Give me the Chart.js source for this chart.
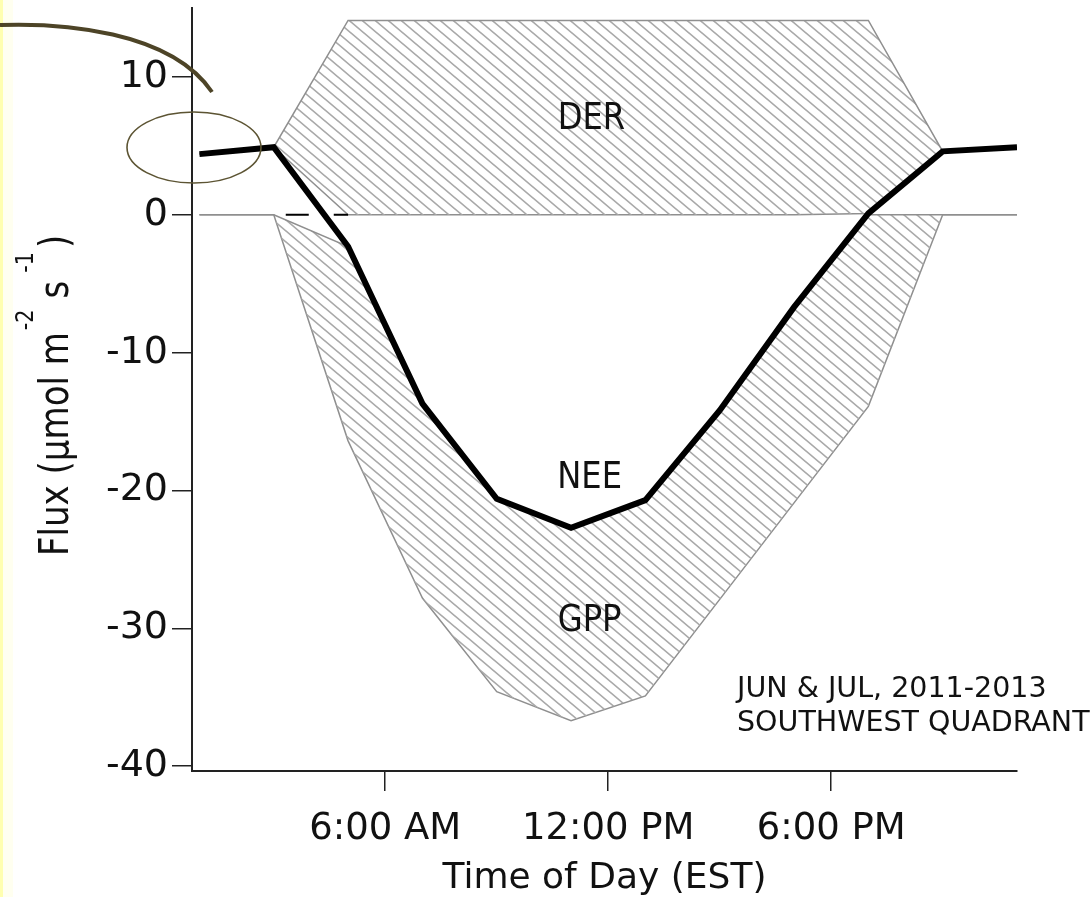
<!DOCTYPE html>
<html>
<head>
<meta charset="utf-8">
<script src="https://cdn.jsdelivr.net/npm/chart.js@4/dist/chart.umd.min.js"></script>
<style>
  html, body { margin: 0; padding: 0; }
  body {
    width: 1091px; height: 897px; overflow: hidden;
    background: linear-gradient(to right, #ffffb0 0, #ffffb0 3px, #fffff0 3px, #fffff0 13px, #ffffff 13px);
  }
  #wrap { position: absolute; left: 0; top: 0; width: 1091px; height: 897px; }
</style>
</head>
<body>
<div id="wrap"><canvas id="fluxChart" width="1091" height="897"></canvas></div>
<script>
// hour of day (EST), 2-hourly bins
const hours = [1, 3, 5, 7, 9, 11, 13, 15, 17, 19, 21, 23];
// net ecosystem exchange
const nee = [4.4, 4.9, -2.3, -13.7, -20.6, -22.7, -20.7, -14.2, -6.7, 0.1, 4.6, 4.9];
// daytime ecosystem respiration band (top / bottom)
const derTop = [4.4, 4.9, 14.1, 14.1, 14.1, 14.1, 14.1, 14.1, 14.1, 14.1, 4.6, 4.9];
const derBottom = [4.4, 4.9, 0, 0, 0, 0, 0, 0, 0, 0.1, 4.6, 4.9];
// gross primary production band (top / bottom)
const gppTop = [0, 0, -2.3, -13.7, -20.6, -22.7, -20.7, -14.2, -6.7, 0, 0, 0];
const gppBottom = [0, 0, -16.4, -27.8, -34.6, -36.7, -34.9, -27.9, -20.9, -13.9, 0, 0];
// short dashed zero reference (only visible between the two bands)
const zeroHours = [3, 5];
const zeroLine = [0, 0];

const xTicks = [6, 12, 18];
const xTickLabels = ['6:00 AM', '12:00 PM', '6:00 PM'];
const yTicks = [-40, -30, -20, -10, 0, 10];

const pts = (xs, ys) => xs.map((x, i) => ({ x: x, y: ys[i] }));

// diagonal hatch used for the DER and GPP bands
const makeHatch = () => {
    const w = 13, h = 11;
    const c = document.createElement('canvas');
    c.width = w; c.height = h;
    const g = c.getContext('2d');
    g.strokeStyle = '#a9a9a9';
    g.lineWidth = 1.6;
    g.beginPath();
    for (let k = -1; k <= 1; k++) {
        g.moveTo(k * w - w, -h);
        g.lineTo(k * w + 2 * w, 2 * h);
    }
    g.stroke();
    return g.createPattern(c, 'repeat');
};
const hatch = makeHatch();

const FONT = 'DejaVu Sans';
const edgeGray = '#8f8f8f';

// y axis title with raised exponents, drawn bottom-up from (baseX, startY)
const drawYTitle = (ctx, baseX, startY) => {
    const main = '41px "' + FONT + '"';
    const sup = '25px "' + FONT + '"';
    // text, font, baseline shift, gap before
    const parts = [
        ['Flux (μmol m', main, 0, 0],
        ['-2', sup, -35, 2],
        ['s', main, 0, 11],
        ['-1', sup, -35, 8],
        [')', main, 0, 4]
    ];
    ctx.save();
    ctx.translate(baseX, startY);
    ctx.rotate(-Math.PI / 2);
    ctx.scale(0.83, 1);
    ctx.fillStyle = '#111';
    ctx.textBaseline = 'alphabetic';
    ctx.textAlign = 'left';
    let x = 0;
    parts.forEach(p => {
        ctx.font = p[1];
        x += p[3] / 0.83;
        ctx.fillText(p[0], x, p[2]);
        x += ctx.measureText(p[0]).width;
    });
    ctx.restore();
};

// slightly narrowed label text
const narrowText = (ctx, text, x, y) => {
    ctx.save();
    ctx.translate(x, y);
    ctx.scale(0.87, 1);
    ctx.fillText(text, 0, 0);
    ctx.restore();
};

// region names and the data-set note
const notes = {
    id: 'notes',
    afterDatasetsDraw(chart) {
        const { ctx, scales: { x, y } } = chart;
        ctx.save();
        ctx.fillStyle = '#111';
        ctx.font = '37px "' + FONT + '"';
        ctx.textAlign = 'center';
        ctx.textBaseline = 'middle';
        narrowText(ctx, 'DER', x.getPixelForValue(11.55), y.getPixelForValue(6.9));
        narrowText(ctx, 'NEE', x.getPixelForValue(11.5), y.getPixelForValue(-19.1));
        narrowText(ctx, 'GPP', x.getPixelForValue(11.5), y.getPixelForValue(-29.5));
        ctx.font = '28.5px "' + FONT + '"';
        ctx.textAlign = 'left';
        ctx.fillText('JUN & JUL, 2011-2013', 737, 690);
        ctx.fillText('SOUTHWEST QUADRANT', 737, 724);
        ctx.restore();
    },
    afterDraw(chart) {
        const ctx = chart.ctx;
        drawYTitle(ctx, 68, 556);
        ctx.save();
        // hand-drawn highlight marks
        ctx.strokeStyle = '#4d4427';
        ctx.lineWidth = 4;
        ctx.lineCap = 'butt';
        ctx.beginPath();
        ctx.moveTo(0, 25);
        ctx.bezierCurveTo(60, 23, 170, 30, 212, 92);
        ctx.stroke();
        ctx.strokeStyle = '#5c5433';
        ctx.lineWidth = 1.6;
        ctx.beginPath();
        ctx.ellipse(194, 147.5, 67, 35.5, 0, 0, Math.PI * 2);
        ctx.stroke();
        ctx.restore();
    }
};

const ctx = document.getElementById('fluxChart').getContext('2d');
new Chart(ctx, {
    type: 'line',
    data: {
        datasets: [
            {
                label: 'NEE',
                data: pts(hours, nee),
                borderColor: '#000',
                borderWidth: 6,
                borderJoinStyle: 'miter',
                fill: false
            },
            {
                label: 'zero',
                data: pts(zeroHours, zeroLine),
                borderColor: '#000',
                borderWidth: 2,
                borderDash: [23, 25],
                borderDashOffset: 36,
                fill: false
            },
            {
                label: 'DER',
                data: pts(hours, derTop),
                borderColor: edgeGray,
                borderWidth: 1.5,
                backgroundColor: hatch,
                fill: '+1'
            },
            {
                label: 'DER base',
                data: pts(hours, derBottom),
                borderColor: edgeGray,
                borderWidth: 1.5,
                fill: false
            },
            {
                label: 'GPP top',
                data: pts(hours, gppTop),
                borderColor: edgeGray,
                borderWidth: 1.5,
                backgroundColor: hatch,
                fill: '+1'
            },
            {
                label: 'GPP',
                data: pts(hours, gppBottom),
                borderColor: edgeGray,
                borderWidth: 1.5,
                fill: false
            }
        ]
    },
    options: {
        responsive: false,
        animation: false,
        events: [],
        elements: { point: { radius: 0 }, line: { tension: 0 } },
        layout: { padding: { left: 0, top: 8, right: 74, bottom: 0 } },
        plugins: {
            legend: { display: false },
            tooltip: { enabled: false }
        },
        scales: {
            x: {
                type: 'linear',
                min: 0.8,
                max: 23,
                afterBuildTicks: (s) => { s.ticks = xTicks.map(v => ({ value: v })); },
                afterFit: (s) => { s.height = 126; s.paddingLeft = 0; s.paddingRight = 0; },
                ticks: {
                    color: '#111',
                    padding: 16,
                    maxRotation: 0,
                    font: { family: FONT, size: 37 },
                    callback: (v) => xTickLabels[xTicks.indexOf(v)]
                },
                grid: { drawOnChartArea: false, tickLength: 20, color: '#222', lineWidth: 1.5 },
                border: { color: '#222', width: 2 },
                title: {
                    display: true,
                    text: 'Time of Day (EST)',
                    color: '#111',
                    font: { family: FONT, size: 36, lineHeight: 1 },
                    padding: { top: 0, bottom: 0 }
                }
            },
            y: {
                min: -40.35,
                max: 15,
                afterBuildTicks: (s) => { s.ticks = yTicks.map(v => ({ value: v })); },
                afterFit: (s) => { s.width = 192; s.paddingTop = 0; s.paddingBottom = 0; },
                ticks: {
                    color: '#111',
                    padding: 4,
                    font: { family: FONT, size: 38 }
                },
                grid: { drawOnChartArea: false, tickLength: 20, color: '#222', lineWidth: 1.5 },
                border: { color: '#222', width: 2 }
            }
        }
    },
    plugins: [notes]
});
</script>
</body>
</html>
